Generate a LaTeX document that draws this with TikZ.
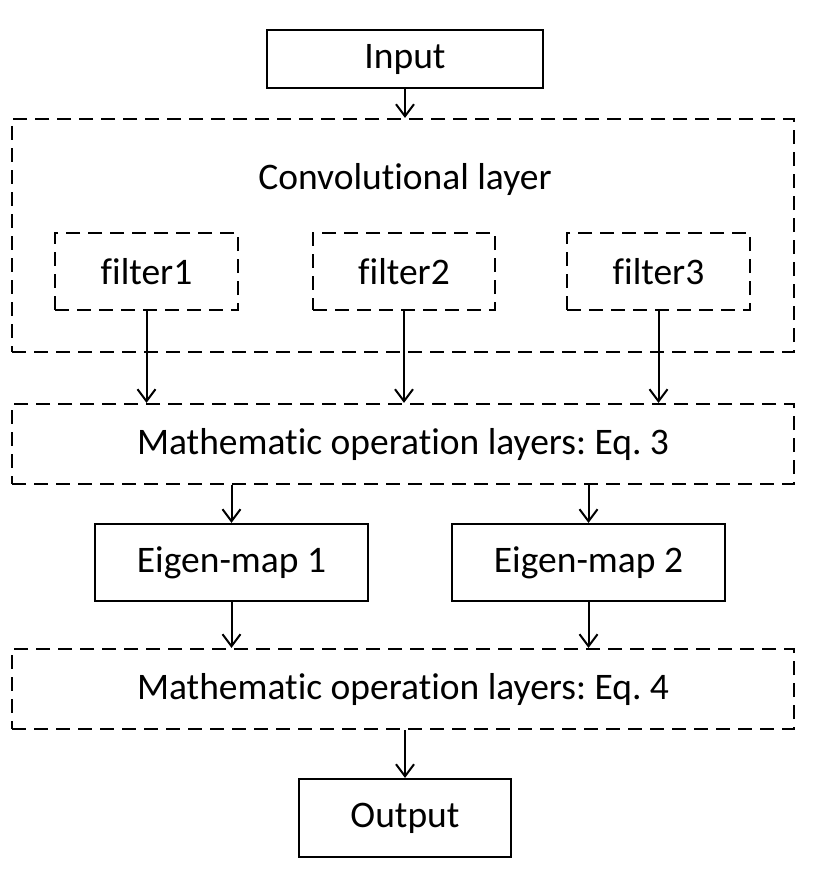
\documentclass[tikz,border=0pt]{standalone}
\usepackage{fontspec}
\setmainfont{Carlito}[Ligatures={NoCommon}]
\usetikzlibrary{arrows.meta}
\frenchspacing

\begin{document}
\begin{tikzpicture}
                \tikzset{x=1pt, y=-1pt, >={Straight Barb[length=12pt, width=18pt]}}
                \tikzstyle{box}=[rectangle, draw, line width=2.2pt, inner sep=0pt, font=\fontsize{37.5}{44}\selectfont]
                \tikzstyle{dbox}=[box, dash pattern=on 14pt off 8pt]
                \tikzstyle{flow}=[->, line width=2pt]

                \useasboundingbox (0,0) rectangle (812,872);

                % input
                \draw (405, 59.0)   node[box, minimum width=276, minimum height=58]   (input)  {Input};

                % convolutional layer with filters
                \draw (403, 235.5)  node[dbox, minimum width=782, minimum height=233]  (conv)   {};
                \draw (405, 180.0)  node[font=\fontsize{37.5}{44}\selectfont]         (convt)  {Convolutional layer};
                \draw (146.5, 271.5) node[dbox, minimum width=183, minimum height=77] (f1)     {filter1};
                \draw (404.0, 271.5) node[dbox, minimum width=182, minimum height=77] (f2)     {filter2};
                \draw (658.5, 271.5) node[dbox, minimum width=183, minimum height=77] (f3)     {filter3};

                % mathematic operation layers
                \draw (403, 444.0)  node[dbox, minimum width=782, minimum height=80]   (eq3)    {Mathematic operation layers: Eq. 3};
                \draw (403, 689.0)  node[dbox, minimum width=782, minimum height=80]   (eq4)    {Mathematic operation layers: Eq. 4};

                % eigen-maps
                \draw (231.5, 562.5) node[box, minimum width=273, minimum height=77]  (e1)     {Eigen-map 1};
                \draw (588.5, 562.5) node[box, minimum width=273, minimum height=77]  (e2)     {Eigen-map 2};

                % output
                \draw (405, 818.0)  node[box, minimum width=212, minimum height=78]   (output) {Output};

                % arrows
                \draw [flow]        (input.south) -- (input.south |- conv.north);
                \draw [flow]        (f1.south) -- (f1.south |- eq3.north);
                \draw [flow]        (f2.south) -- (f2.south |- eq3.north);
                \draw [flow]        (f3.south) -- (f3.south |- eq3.north);
                \draw [flow]        (e1.north |- eq3.south) -- (e1.north);
                \draw [flow]        (e2.north |- eq3.south) -- (e2.north);
                \draw [flow]        (e1.south) -- (e1.south |- eq4.north);
                \draw [flow]        (e2.south) -- (e2.south |- eq4.north);
                \draw [flow]        (output.north |- eq4.south) -- (output.north);
            \end{tikzpicture}
\end{document}
